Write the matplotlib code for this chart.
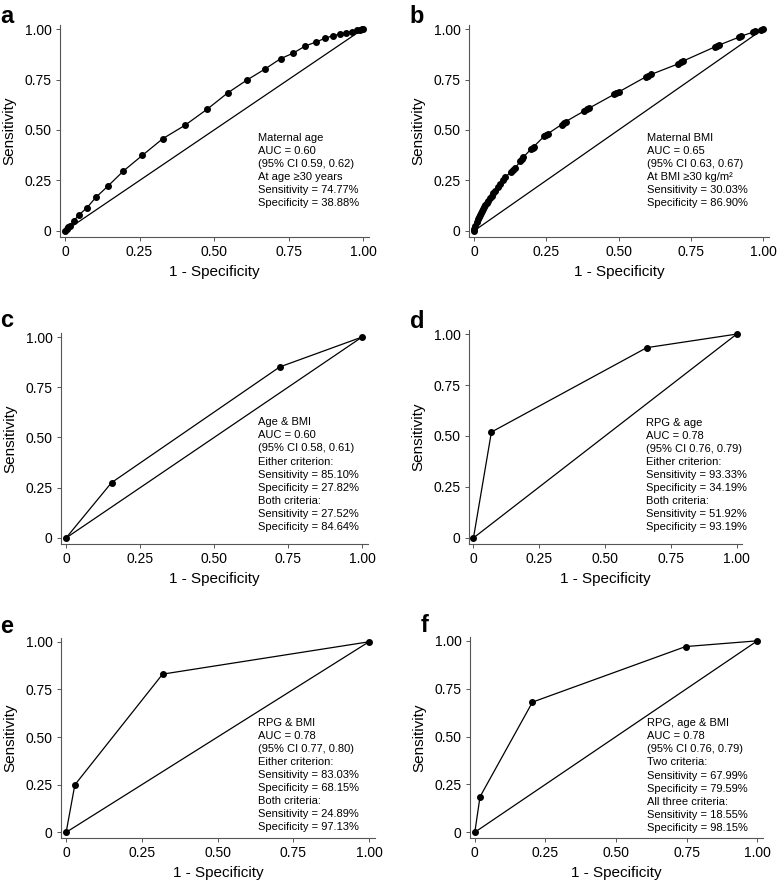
import matplotlib
matplotlib.use("Agg")
import matplotlib.pyplot as plt

plt.rcParams["font.family"] = ["Liberation Sans", "DejaVu Sans"]

# ----- dados -----
a_fpr = [0, 0.006, 0.011, 0.017, 0.029, 0.047, 0.073, 0.103, 0.143, 0.196, 0.259, 0.328, 0.402, 0.477,
         0.547, 0.611, 0.670, 0.723, 0.766, 0.806, 0.841, 0.872, 0.899, 0.922, 0.944, 0.964, 0.981, 0.991, 0.998, 1.0]
a_tpr = [0, 0.008, 0.018, 0.026, 0.050, 0.080, 0.114, 0.166, 0.221, 0.297, 0.374, 0.457, 0.523, 0.603,
         0.685, 0.748, 0.801, 0.853, 0.881, 0.916, 0.935, 0.954, 0.967, 0.975, 0.982, 0.987, 0.993, 0.997, 1.0, 1.0]

b_fpr = [0, 0.002, 0.005, 0.009, 0.013, 0.016, 0.020, 0.023, 0.027, 0.030, 0.035, 0.039, 0.045, 0.050,
         0.056, 0.061, 0.067, 0.073, 0.082, 0.090, 0.100, 0.108, 0.129, 0.136, 0.143, 0.160, 0.166, 0.170,
         0.199, 0.203, 0.207, 0.243, 0.249, 0.255, 0.303, 0.311, 0.318, 0.382, 0.390, 0.398, 0.484, 0.492,
         0.500, 0.594, 0.603, 0.612, 0.707, 0.716, 0.724, 0.832, 0.840, 0.848, 0.915, 0.922, 0.966, 0.971,
         0.993, 1.0]
b_tpr = [0, 0.012, 0.025, 0.046, 0.058, 0.068, 0.078, 0.087, 0.097, 0.107, 0.119, 0.129, 0.140, 0.150,
         0.162, 0.173, 0.186, 0.200, 0.216, 0.231, 0.250, 0.266, 0.294, 0.302, 0.311, 0.346, 0.356, 0.364,
         0.408, 0.413, 0.418, 0.469, 0.475, 0.481, 0.527, 0.535, 0.542, 0.595, 0.602, 0.608, 0.676, 0.682,
         0.688, 0.763, 0.769, 0.775, 0.828, 0.835, 0.842, 0.911, 0.916, 0.921, 0.959, 0.964, 0.985, 0.988,
         0.996, 1.0]

c_fpr = [0, 0.1536, 0.7218, 1.0]
c_tpr = [0, 0.2752, 0.8510, 1.0]

d_fpr = [0, 0.0681, 0.6581, 1.0]
d_tpr = [0, 0.5192, 0.9333, 1.0]

e_fpr = [0, 0.0287, 0.3185, 1.0]
e_tpr = [0, 0.2489, 0.8303, 1.0]

f_fpr = [0, 0.0185, 0.2041, 0.746, 1.0]
f_tpr = [0, 0.1855, 0.6799, 0.970, 1.0]

textos = {
    "a": "Maternal age\nAUC = 0.60\n(95% CI 0.59, 0.62)\nAt age \u226530 years\nSensitivity = 74.77%\nSpecificity = 38.88%",
    "b": "Maternal BMI\nAUC = 0.65\n(95% CI 0.63, 0.67)\nAt BMI \u226530 kg/m\u00b2\nSensitivity = 30.03%\nSpecificity = 86.90%",
    "c": "Age & BMI\nAUC = 0.60\n(95% CI 0.58, 0.61)\nEither criterion:\nSensitivity = 85.10%\nSpecificity = 27.82%\nBoth criteria:\nSensitivity = 27.52%\nSpecificity = 84.64%",
    "d": "RPG & age\nAUC = 0.78\n(95% CI 0.76, 0.79)\nEither criterion:\nSensitivity = 93.33%\nSpecificity = 34.19%\nBoth criteria:\nSensitivity = 51.92%\nSpecificity = 93.19%",
    "e": "RPG & BMI\nAUC = 0.78\n(95% CI 0.77, 0.80)\nEither criterion:\nSensitivity = 83.03%\nSpecificity = 68.15%\nBoth criteria:\nSensitivity = 24.89%\nSpecificity = 97.13%",
    "f": "RPG, age & BMI\nAUC = 0.78\n(95% CI 0.76, 0.79)\nTwo criteria:\nSensitivity = 67.99%\nSpecificity = 79.59%\nAll three criteria:\nSensitivity = 18.55%\nSpecificity = 98.15%",
}

ticks = [0, 0.25, 0.5, 0.75, 1.0]
tick_labels = ["0", "0.25", "0.50", "0.75", "1.00"]

W, H = 777, 881
fig = plt.figure(figsize=(W / 100, H / 100), dpi=100)

# caixa de cada painel em pixels: esquerda, topo, direita, base ; posição do texto ; posição da letra
paineis = [
    ("a", a_fpr, a_tpr, (60, 25, 369, 237), (0.648, 0.485), (0, 23)),
    ("b", b_fpr, b_tpr, (469, 25, 769, 237), (0.598, 0.485), (409, 23)),
    ("c", c_fpr, c_tpr, (61, 333, 368, 544), (0.650, 0.600), (0, 327)),
    ("d", d_fpr, d_tpr, (469, 330, 742, 544), (0.657, 0.590), (410, 328)),
    ("e", e_fpr, e_tpr, (61, 638, 375, 838), (0.635, 0.602), (0, 633)),
    ("f", f_fpr, f_tpr, (470, 637, 763, 838), (0.609, 0.595), (421, 632)),
]

for letra, fpr, tpr, (l, t, r, b), (tx, ty), (lx, ly) in paineis:
    ax = fig.add_axes([l / W, 1 - b / H, (r - l) / W, (b - t) / H])
    ax.plot([0, 1], [0, 1], color="black", lw=0.9)
    ax.plot(fpr, tpr, color="black", lw=0.9, marker="o", markersize=4)
    ax.set_xlim(-0.017, 1.02)
    ax.set_ylim(-0.03, 1.02)
    ax.set_xticks(ticks)
    ax.set_xticklabels(tick_labels)
    ax.set_yticks(ticks)
    ax.set_yticklabels(tick_labels)
    ax.tick_params(direction="out", length=3, width=0.7, colors="#555555", labelcolor="black",
                   labelsize=10, pad=3)
    for lado in ["top", "right"]:
        ax.spines[lado].set_visible(False)
    for lado in ["left", "bottom"]:
        ax.spines[lado].set_color("#555555")
        ax.spines[lado].set_linewidth(0.8)
    ax.set_xlabel("1 - Specificity", fontsize=11, labelpad=4)
    ax.set_ylabel("Sensitivity", fontsize=11, labelpad=6)
    ax.text(tx, ty, textos[letra], fontsize=8, va="top", ha="left", linespacing=1.38)
    fig.text(lx / W, 1 - ly / H, letra, fontsize=17, fontweight="bold", ha="left", va="baseline")

fig.savefig("out.png", dpi=100)
